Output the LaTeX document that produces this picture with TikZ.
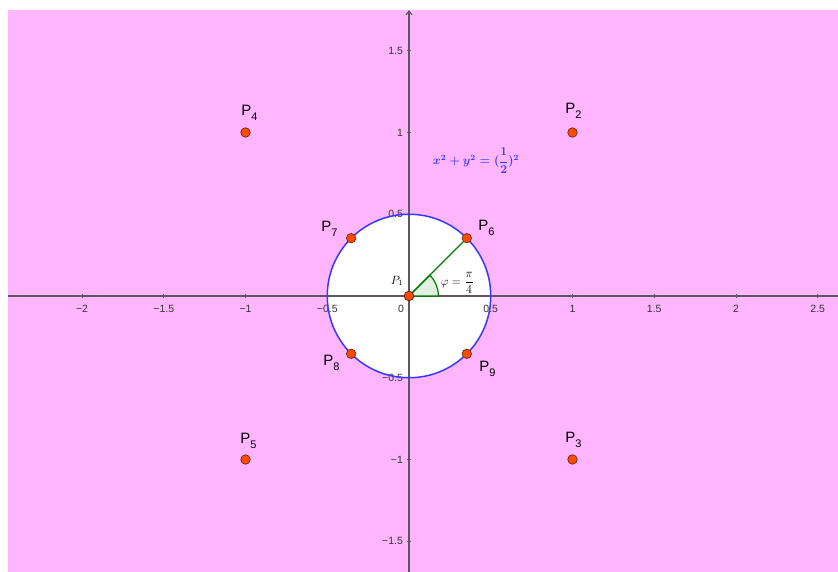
\documentclass[tikz,border=0pt]{standalone}
\usepackage{amsmath}
\usepackage{fontspec}
\setsansfont{Liberation Sans}
\usetikzlibrary{arrows.meta}
\definecolor{bgpink}{RGB}{255,182,255}
\definecolor{axisgray}{RGB}{95,85,95}
\definecolor{circblue}{RGB}{55,55,255}
\definecolor{ptred}{RGB}{255,75,0}
\definecolor{ptborder}{RGB}{90,30,10}
\definecolor{darkgreen}{RGB}{0,125,0}
\definecolor{lightgreen}{RGB}{225,240,225}
\newcommand{\plab}[1]{P\raisebox{-4.5pt}{\fontsize{11}{11}\selectfont #1}}
\begin{document}
\begin{tikzpicture}[x=163.5pt,y=163.5pt,
  ticklabel/.style={font=\sffamily\fontsize{10.5}{10.5}\selectfont, text=black!80, inner sep=0pt},
  ptlabel/.style={font=\sffamily\fontsize{15}{15}\selectfont, inner sep=0pt},
  pt/.style={circle, fill=ptred, draw=ptborder, line width=0.6pt, minimum size=9.5pt, inner sep=0pt},
  axis/.style={axisgray, line width=1.1pt},
  tick/.style={axisgray, line width=0.8pt},
  eqlabel/.style={inner sep=0pt, text=circblue, font=\fontsize{11.5}{11.5}\selectfont\boldmath}]
\useasboundingbox (-2.5015,-1.688) rectangle (2.6239,1.8104);
\fill[white] (-2.5015,-1.688) rectangle (2.6239,1.8104);
\fill[bgpink, even odd rule] (-2.452,-1.688) rectangle (2.6239,1.749) (0,0) circle (0.5);
% axes
\coordinate (xl) at (-2.452,0);
\coordinate (xr) at (2.6239,0);
\coordinate (yb) at (0,-1.688);
\coordinate (yt) at (0,1.749);
\draw[axis] (xl) -- (xr);
\draw[axis, -{Straight Barb[length=4pt,width=6pt]}] (yb) -- (yt);
% ticks
\foreach \t/\l in {-2/−2,-1.5/−1.5,-1/−1,-0.5/−0.5,0.5/0.5,1/1,1.5/1.5,2/2,2.5/2.5}{
  \draw[tick] (\t,-0.013) -- (\t,0.013);
  \node[ticklabel] at (\t,-0.08) {\l};
}
\foreach \t/\l in {-1.5/−1.5,-1/−1,-0.5/−0.5,0.5/0.5,1/1,1.5/1.5}{
  \draw[tick] (-0.013,\t) -- (0.013,\t);
  \node[ticklabel, anchor=east] at (-0.036,\t) {\l};
}
\node[ticklabel] (zero) at (-0.049,-0.08) {0};
% circle
\draw[circblue, line width=1.5pt] (0,0) circle (0.5);
% angle sector
\filldraw[fill=lightgreen, draw=darkgreen, line width=1.2pt] (0,0) -- (0.18,0) arc (0:45:0.18) -- cycle;
% points
\node[pt] (P1) at (0,0) {};
\node[pt] (P2) at (1,1) {};
\node[pt] (P3) at (1,-1) {};
\node[pt] (P4) at (-1,1) {};
\node[pt] (P5) at (-1,-1) {};
\node[pt] (P6) at (0.35355,0.35355) {};
\node[pt] (P7) at (-0.35355,0.35355) {};
\node[pt] (P8) at (-0.35355,-0.35355) {};
\node[pt] (P9) at (0.35355,-0.35355) {};
\draw[darkgreen, line width=1.4pt] (P1.center) -- (P6);
\node[pt] at (0,0) {};
% labels
\node[ptlabel] (L2) at (1.006,1.131) {\plab{2}};
\node[ptlabel] (L4) at (-0.976,1.119) {\plab{4}};
\node[ptlabel] (L3) at (1.006,-0.881) {\plab{3}};
\node[ptlabel] (L5) at (-0.982,-0.887) {\plab{5}};
\node[ptlabel] (L6) at (0.474,0.416) {\plab{6}};
\node[ptlabel] (L7) at (-0.486,0.410) {\plab{7}};
\node[ptlabel] (L8) at (-0.474,-0.410) {\plab{8}};
\node[ptlabel] (L9) at (0.480,-0.446) {\plab{9}};
\node[inner sep=0pt, font=\fontsize{12}{12}\selectfont] (L1) at (-0.073,0.092) {$P_1$};
\node[inner sep=0pt, font=\fontsize{13}{13}\selectfont] (phi) at (0.296,0.080) {$\varphi=\dfrac{\pi}{4}$};
\node[eqlabel] (eq) at (0.41,0.826) {$x^2+y^2=(\dfrac{1}{2})^2$};
\end{tikzpicture}
\end{document}
